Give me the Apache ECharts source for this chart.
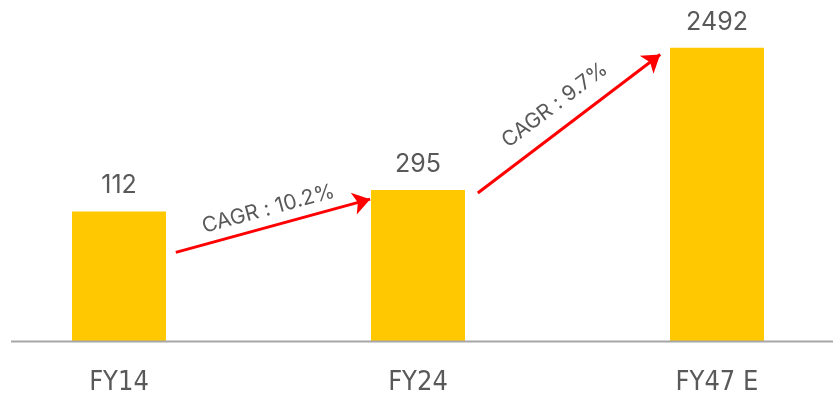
<!DOCTYPE html>
<html>
<head>
<meta charset="utf-8">
<script src="https://cdn.jsdelivr.net/npm/echarts@6/dist/echarts.min.js"></script>
<style>
  html, body { margin: 0; padding: 0; background: #fff; }
  #growth-bar { width: 833px; height: 400px; }
</style>
</head>
<body>
<div id="growth-bar"></div>
<script>
// categories and the values printed above the bars
const years = ['FY14', 'FY24', 'FY47 E']
const valueLabels = [112, 295, 2492]
// the bars in the picture are not to scale, so their drawn height (0-100) is kept apart
const barHeights = [38, 44.3, 86]
// CAGR arrows: [x (category position), y (same 0-100 scale)] start and end
const cagrText = ['CAGR : 10.2%', 'CAGR : 9.7%']
const cagrFrom = [[0.19, 26], [1.2, 43.4]]
const cagrTo = [[0.84, 41.6], [1.81, 84]]

const chart = echarts.init(document.getElementById('growth-bar'))
const textColor = '#595959'

const option = {
  animation: false,
  grid: { left: -30.5, right: -33.5, top: 0, bottom: 59, outerBoundsMode: 'none', containLabel: false },
  xAxis: [
    {
      type: 'category',
      data: years,
      axisLine: { show: false },
      axisTick: { show: false },
      axisLabel: {
        color: textColor,
        fontFamily: 'DejaVu Sans Condensed, sans-serif',
        fontSize: 27,
        margin: 28
      }
    },
    {
      type: 'value',
      min: -0.5,
      max: 2.5,
      show: false
    }
  ],
  yAxis: {
    type: 'value',
    min: 0,
    max: 100,
    show: false
  },
  graphic: [
    {
      type: 'line',
      shape: { x1: 11, y1: 341.5, x2: 833, y2: 341.5 },
      style: { stroke: '#A6A6A6', lineWidth: 2 },
      z: 10
    }
  ],
  series: [
    {
      type: 'bar',
      xAxisIndex: 0,
      barWidth: 94,
      data: barHeights,
      itemStyle: { color: '#FFC800' },
      label: {
        show: true,
        position: 'top',
        distance: 13,
        color: textColor,
        fontFamily: 'Inter, sans-serif',
        fontSize: 25,
        formatter: p => valueLabels[p.dataIndex]
      }
    },
    {
      type: 'lines',
      coordinateSystem: 'cartesian2d',
      xAxisIndex: 1,
      yAxisIndex: 0,
      symbol: ['none', 'arrow'],
      symbolSize: [15, 17],
      lineStyle: { color: '#FF0000', width: 3, opacity: 1 },
      label: {
        show: true,
        position: 'insideMiddleTop',
        color: textColor,
        fontFamily: 'Inter, sans-serif',
        fontSize: 21,
        formatter: p => cagrText[p.dataIndex]
      },
      data: cagrText.map((t, i) => ({
        coords: [cagrFrom[i], cagrTo[i]],
        label: { distance: i === 0 ? 7 : 13 }
      }))
    }
  ]
}

chart.setOption(option)
</script>
</body>
</html>
